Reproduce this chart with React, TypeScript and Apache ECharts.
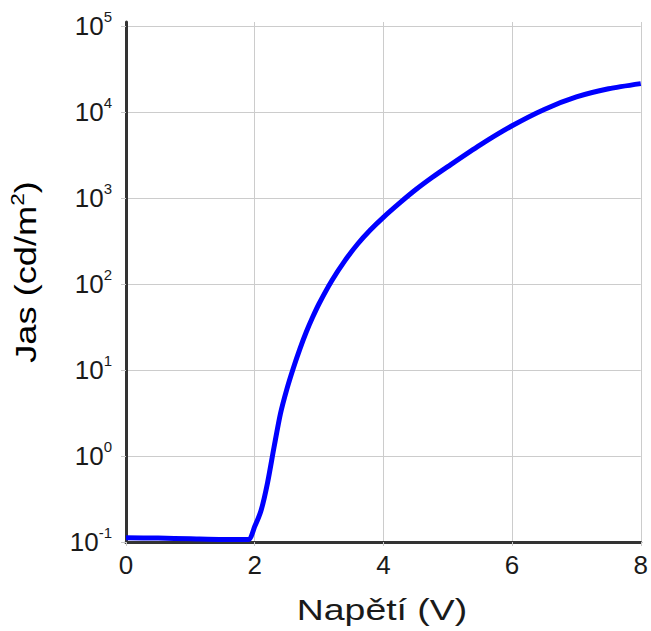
import React, { useEffect, useRef } from "react";
import * as echarts from "echarts";

const voltage = [0, 0.5, 1, 1.5, 1.9, 2.0, 2.1, 2.2, 2.3, 2.4, 2.5, 2.6, 2.7, 2.8, 2.9, 3.0, 3.2, 3.4, 3.6, 3.8, 4.0, 4.25, 4.5, 4.75, 5.0, 5.5, 6.0, 6.5, 7.0, 7.5, 8.0];
const luminance = [0.112, 0.111, 0.109, 0.107, 0.107, 0.151, 0.234, 0.49, 1.26, 3.1, 6.0, 10.5, 17.4, 27.5, 41, 59, 110, 186, 292, 427, 596, 871, 1245, 1718, 2317, 4121, 6918, 10715, 14962, 18621, 21380];

const xTitle = "Napětí (V)";
const yTitleMain = "Jas (cd/m";
const yTitleSup = "2";

const FONT = "'Liberation Sans', Arial, Helvetica, sans-serif";

export default function App() {
  const ref = useRef<HTMLDivElement>(null);
  useEffect(() => {
    if (!ref.current) return;
    const chart = echarts.init(ref.current, undefined, { renderer: "svg" });
    const data = voltage.map((v, i) => [v, luminance[i]]);
    chart.setOption({
      animation: false,
      backgroundColor: "#ffffff",
      grid: { left: 126, right: 6, top: 22, bottom: 89, containLabel: false },
      xAxis: {
        type: "value",
        min: 0,
        max: 8,
        interval: 2,
        axisLine: { show: true, onZero: false, lineStyle: { color: "#333333", width: 3 } },
        axisTick: { show: true, length: 4, lineStyle: { color: "#c8c8c8", width: 1 } },
        splitLine: { show: true, lineStyle: { color: "#cccccc", width: 1 } },
        axisLabel: { fontSize: 26, fontFamily: FONT, color: "#1a1a1a", margin: 10 },
      },
      yAxis: {
        type: "log",
        logBase: 10,
        min: 0.1,
        max: 111400,
        axisLine: { show: true, lineStyle: { color: "#333333", width: 3 } },
        axisTick: { show: true, length: 5, lineStyle: { color: "#c8c8c8", width: 1 } },
        splitLine: { show: true, showMaxLine: false, lineStyle: { color: "#cccccc", width: 1 } },
        axisLabel: {
          margin: 14,
          showMaxLabel: false,
          formatter: (v: number) => {
            const l = Math.log10(v);
            const e = Math.round(l);
            if (Math.abs(l - e) > 1e-6) return "";
            return `{b|10}{s|${e}}`;
          },
          rich: {
            b: { fontSize: 26, fontFamily: FONT, color: "#1a1a1a", lineHeight: 34 },
            s: { fontSize: 15, fontFamily: FONT, color: "#1a1a1a", lineHeight: 14, verticalAlign: "top" },
          },
        },
      },
      graphic: [
        {
          type: "text",
          x: 382,
          y: 610,
          scaleX: 1.29,
          style: {
            text: xTitle,
            font: `29px ${FONT}`,
            fill: "#1a1a1a",
            align: "center",
            verticalAlign: "middle",
          },
        },
        {
          type: "text",
          x: 26,
          y: 272,
          rotation: Math.PI / 2,
          scaleX: 1.25,
          style: {
            text: `{a|${yTitleMain}}{s|${yTitleSup}}{a|)}`,
            align: "center",
            verticalAlign: "middle",
            rich: {
              a: { fontSize: 29, fontFamily: FONT, color: "#1a1a1a", lineHeight: 34 },
              s: { fontSize: 18, fontFamily: FONT, color: "#1a1a1a", lineHeight: 18, verticalAlign: "top" },
            },
          },
        },
      ],
      series: [
        {
          type: "line",
          data,
          showSymbol: false,
          smooth: 0.25,
          lineStyle: { color: "#0000ff", width: 5 },
          itemStyle: { color: "#0000ff" },
          clip: true,
        },
      ],
    });
    return () => chart.dispose();
  }, []);
  return <div ref={ref} style={{ width: 651, height: 631, position: "absolute", left: 0, top: 0 }} />;
}
